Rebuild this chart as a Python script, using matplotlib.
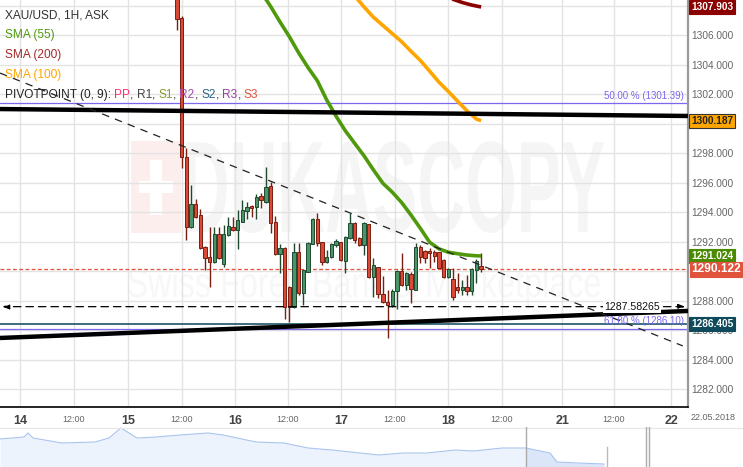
import numpy as np
import matplotlib
matplotlib.use('Agg')
import matplotlib.pyplot as plt
import matplotlib.transforms as mtransforms
from matplotlib.textpath import TextPath
from matplotlib.patches import PathPatch, Rectangle
from matplotlib.font_manager import FontProperties

plt.rcParams['font.family'] = ['Liberation Sans', 'DejaVu Sans']

# ---------------- data ----------------
opens = [1311.0, 1307.15, 1297.73, 1292.98, 1294.54, 1293.80, 1291.63, 1290.95, 1290.61, 1292.51,
         1290.47, 1292.44, 1292.98, 1292.78, 1293.32, 1294.07, 1294.41, 1294.34, 1295.08, 1294.68,
         1295.76, 1293.32, 1291.15, 1291.56, 1288.92, 1287.56, 1291.29, 1288.51, 1289.93, 1291.83,
         1293.53, 1291.96, 1290.61, 1290.95, 1291.76, 1291.96, 1290.68, 1292.24, 1293.25, 1292.24,
         1291.76, 1293.18, 1289.59, 1290.27, 1288.44, 1287.90, 1287.69, 1288.64, 1290.00, 1289.05,
         1289.80, 1288.71, 1291.63, 1291.36, 1291.36, 1291.29, 1291.29, 1290.74, 1289.59, 1289.46,
         1288.92, 1288.71, 1288.92, 1288.64, 1290.07, 1290.34]
highs = [1311.5, 1307.30, 1298.34, 1295.83, 1294.88, 1294.20, 1291.70, 1292.98, 1292.98, 1292.98,
         1293.12, 1293.66, 1293.66, 1294.14, 1294.81, 1294.68, 1294.50, 1295.22, 1295.30, 1297.05,
         1296.03, 1293.73, 1291.80, 1291.60, 1289.00, 1291.90, 1291.90, 1290.10, 1291.95, 1293.60,
         1293.93, 1292.00, 1291.42, 1291.90, 1292.17, 1292.00, 1292.35, 1293.93, 1293.30, 1292.30,
         1293.30, 1293.20, 1290.88, 1290.30, 1289.66, 1288.71, 1288.78, 1290.05, 1291.22, 1289.90,
         1289.90, 1291.90, 1291.76, 1291.40, 1291.56, 1291.42, 1291.30, 1290.80, 1290.20, 1290.20,
         1289.86, 1289.39, 1289.73, 1290.20, 1290.80, 1291.22]
lows = [1306.34, 1296.98, 1292.10, 1292.90, 1293.60, 1291.50, 1290.07, 1288.92, 1290.55, 1290.80,
        1290.27, 1292.40, 1292.70, 1291.49, 1293.30, 1293.53, 1293.66, 1293.53, 1294.27, 1294.60,
        1292.58, 1291.10, 1289.86, 1286.75, 1286.54, 1287.50, 1288.40, 1287.68, 1289.90, 1291.80,
        1291.70, 1290.41, 1290.55, 1290.88, 1291.63, 1290.70, 1289.86, 1292.20, 1291.90, 1291.70,
        1291.08, 1289.50, 1288.24, 1288.17, 1287.85, 1285.46, 1287.56, 1287.42, 1289.00, 1288.71,
        1287.83, 1288.70, 1290.54, 1290.54, 1290.20, 1290.61, 1290.20, 1289.50, 1289.50, 1288.03,
        1288.51, 1288.37, 1288.37, 1288.37, 1289.20, 1289.93]
closes = [1307.08, 1297.73, 1292.98, 1294.54, 1293.66, 1291.56, 1290.88, 1290.61, 1292.51, 1290.88,
          1292.51, 1293.05, 1292.78, 1293.46, 1294.14, 1294.34, 1294.27, 1295.02, 1294.81, 1295.70,
          1293.25, 1291.15, 1291.56, 1287.56, 1287.56, 1291.29, 1288.51, 1290.07, 1291.90, 1293.53,
          1291.90, 1290.61, 1290.95, 1291.83, 1292.03, 1290.74, 1292.31, 1293.25, 1292.10, 1291.76,
          1293.25, 1289.59, 1290.41, 1288.44, 1287.90, 1287.69, 1288.64, 1290.00, 1289.05, 1289.86,
          1288.78, 1291.63, 1290.95, 1290.88, 1291.22, 1291.02, 1290.20, 1289.59, 1290.14, 1288.24,
          1288.71, 1288.92, 1288.64, 1290.14, 1290.68, 1290.12]

sma55_idx = [18, 20, 22, 24, 26, 28, 30, 32, 34, 36, 38, 40, 42, 44, 46, 48, 50, 52, 54, 56, 58, 60, 62, 64, 65]
sma55_val = [1308.9, 1307.95, 1306.9, 1305.9, 1304.8, 1303.8, 1302.9, 1301.6, 1300.5, 1299.5, 1298.65,
             1297.8, 1296.85, 1295.95, 1295.35, 1294.65, 1293.8, 1292.9, 1291.95, 1291.5, 1291.27,
             1291.17, 1291.08, 1291.03, 1291.02]
sma100_idx = [38, 40, 42, 44, 46, 48, 50, 52, 54, 56, 58, 60, 62, 64, 65]
sma100_val = [1308.65, 1307.9, 1307.2, 1306.65, 1306.1, 1305.55, 1304.9, 1304.28, 1303.55, 1302.8,
              1302.17, 1301.5, 1300.85, 1300.3, 1300.19]
sma200_idx = [57, 59, 61, 63, 65]
sma200_val = [1308.65, 1308.42, 1308.2, 1308.03, 1307.9]

tick_pos = [-33.5, -22.0, -10.5, 1.1, 12.4, 23.7, 35.0, 46.6, 57.9, 69.4, 82.3, 93.4, 105.6]
tick_lab = ['14', '12:00', '15', '12:00', '16', '12:00', '17', '12:00', '18', '12:00', '21', '12:00', '22']

x_range = (-37.8, 109.2)
resist_y = (1300.98, 1300.51)
support_y = (1285.46, 1287.29)
trend_x = (-37.8, 108.1)
trend_y = (1303.42, 1284.92)
hline_level = 1287.58265
fib50 = 1301.39
fib618 = 1286.10
teal_level = 1286.405
last_price = 1290.122
sma55_last, sma100_last, sma200_last = 1291.024, 1300.187, 1307.903

nav_t = [0, 24, 28, 33, 62, 95, 109, 121, 137, 156, 180, 208, 223, 256, 284, 308, 332, 360, 379, 403,
         427, 455, 474, 502, 526, 550, 557, 578, 604]
nav_v = [28, 30, 34, 29, 24, 25, 29, 39, 29, 30, 32, 34, 32, 25, 24, 19, 17, 14, 12, 14,
         14, 17, 16, 19, 19, 14, 5, 4, 3]

# ---------------- figure ----------------
W, H = 743, 467
fig = plt.figure(figsize=(W / 100, H / 100), dpi=100)
fig.patch.set_facecolor('white')

# background / watermark axes in pixel coords
bg = fig.add_axes([0, 0, 1, 1], zorder=0)
bg.set_xlim(0, W)
bg.set_ylim(H, 0)
bg.axis('off')


def fitted_text(ax, s, x0, y0, x1, y1, color, weight='bold'):
    tp = TextPath((0, 0), s, size=100, prop=FontProperties(family='Liberation Sans', weight=weight))
    bb = tp.get_extents()
    sx = (x1 - x0) / bb.width
    sy = (y1 - y0) / bb.height
    tr = mtransforms.Affine2D().translate(-bb.x0, -bb.y0).scale(sx, -sy).translate(x0, y1) + ax.transData
    ax.add_patch(PathPatch(tp, transform=tr, fc=color, ec='none'))


bg.add_patch(Rectangle((131, 141), 50, 92, fc='#fdeeee', ec='none'))
bg.add_patch(Rectangle((150, 160), 12, 55, fc='white', ec='none'))
bg.add_patch(Rectangle((139, 181), 34, 12, fc='white', ec='none'))
fitted_text(bg, 'DUKASCOPY', 186, 141, 604, 233, '#f5f5f5')
fitted_text(bg, 'Swiss Forex Bank & Marketplace', 128, 266, 600, 306, '#f7f7f7', weight='normal')

# main axes
ax = fig.add_axes([0, 1 - 407 / H, 688 / W, 407 / H], zorder=1)
ax.patch.set_alpha(0)
ymin = 1308.373 - 407 / 14.75
ax.set_ylim(ymin, 1308.373)
ax.set_xlim(*x_range)

yt = np.arange(1282, 1309, 2)
ax.set_yticks(yt)
ax.yaxis.tick_right()
ax.set_yticklabels(['%.3f' % v if v != 1308 else '' for v in yt])
ax.tick_params(axis='y', length=0, pad=2, labelsize=7.3, labelcolor='#666666')
ax.set_xticks(tick_pos)
ax.set_xticklabels(tick_lab)
ax.tick_params(axis='x', length=0, pad=6, labelcolor='#555555')
for lab in ax.get_xticklabels():
    if ':' in lab.get_text():
        lab.set_fontsize(6.5)
        lab.set_color('#666666')
    else:
        lab.set_fontsize(9)
        lab.set_fontweight('bold')
        lab.set_color('#444444')
ax.grid(True, color='#e3e3e3', linewidth=1)
ax.set_axisbelow(True)
for s in ['top', 'left']:
    ax.spines[s].set_visible(False)
ax.spines['right'].set_color('#9a9a9a')
ax.spines['right'].set_linewidth(1.6)
ax.spines['bottom'].set_color('black')
ax.spines['bottom'].set_linewidth(1.2)

# candles
x = np.arange(len(opens))
o = np.array(opens); c = np.array(closes); hh = np.array(highs); ll = np.array(lows)
up = c >= o
face = np.where(up, '#4a9467', '#d84a36')
edge = np.where(up, '#1f4a30', '#7a1e12')
ax.vlines(x, ll, hh, colors=edge, linewidth=1, zorder=3)
ax.bar(x, np.maximum(np.abs(c - o), 0.06), bottom=np.minimum(o, c), width=0.72,
       color=face, edgecolor=edge, linewidth=0.7, zorder=4)

# SMAs
ax.plot(sma55_idx, sma55_val, color='#4f9a0c', lw=2.6, zorder=5, solid_capstyle='butt')
ax.plot(sma100_idx, sma100_val, color='#ffa500', lw=2.6, zorder=5, solid_capstyle='butt')
ax.plot(sma200_idx, sma200_val, color='#8b0000', lw=2.6, zorder=5, solid_capstyle='butt')

# horizontal levels
ax.axhline(fib50, color='#7b68ee', lw=0.9, zorder=2)
ax.axhline(fib618, color='#7b68ee', lw=0.9, zorder=2)
ax.axhline(teal_level, color='#1b5566', lw=1.2, zorder=2)
ax.axhline(last_price, color='#e8503a', lw=0.9, ls=(0, (3, 2)), zorder=2)

# trend lines
ax.plot(x_range, resist_y, color='black', lw=3.2, zorder=6, solid_capstyle='butt')
ax.plot(x_range, support_y, color='black', lw=3.2, zorder=6, solid_capstyle='butt')
ax.plot(trend_x, trend_y, color='#222222', lw=0.9, ls=(0, (6, 5)), zorder=6)
ax.annotate('', xy=(x_range[0] + 0.5, hline_level), xytext=(x_range[1] - 0.6, hline_level),
            arrowprops=dict(arrowstyle='<|-|>,head_width=0.15,head_length=0.4', color='black', lw=0.9,
                            ls=(0, (6, 4)), shrinkA=0, shrinkB=0), zorder=6)
ax.text(97.2, hline_level, '1287.58265', ha='center', va='center', fontsize=7.6, color='#111111',
        zorder=7, bbox=dict(boxstyle='square,pad=0.1', fc='white', ec='none'))

ax.annotate('50.00 % (1301.39)', xy=(108.3, fib50), xytext=(0, 1.5), textcoords='offset points',
            ha='right', va='bottom', fontsize=7, color='#7b68ee', zorder=7)
ax.annotate('61.80 % (1286.10)', xy=(108.3, fib618), xytext=(0, 1.5), textcoords='offset points',
            ha='right', va='bottom', fontsize=7, color='#7b68ee', zorder=7)

# right value boxes
blend = mtransforms.blended_transform_factory(ax.transAxes, ax.transData)
xb = 1 + 3 / 688


def vbox(val, fc, tc, ec, size=7.3, pad=0.2):
    ax.text(xb, val, '%.3f' % val, transform=blend, ha='left', va='center', fontsize=size,
            fontweight='bold', color=tc, clip_on=False, zorder=10,
            bbox=dict(boxstyle='square,pad=%.2f' % pad, fc=fc, ec=ec, lw=0.8))


vbox(sma200_last, '#8b0000', 'white', '#8b0000')
vbox(sma100_last, '#ffa500', '#222222', '#333333')
vbox(sma55_last, '#4a8a00', 'white', '#4a8a00')
vbox(last_price, '#e0533d', 'white', '#e0533d', size=8.6, pad=0.12)
vbox(teal_level, '#0e4a5c', 'white', '#0e4a5c')

# legend texts (top-left)
fs = 8.6
ax.text(5 / 688, 1 - 15 / 407, 'XAU/USD, 1H, ASK', transform=ax.transAxes, fontsize=fs, color='#333333',
        va='center', zorder=8)
ax.text(5 / 688, 1 - 35 / 407, 'SMA (55)', transform=ax.transAxes, fontsize=fs, color='#4f9a0c',
        va='center', zorder=8)
ax.text(5 / 688, 1 - 55 / 407, 'SMA (200)', transform=ax.transAxes, fontsize=fs, color='#a52a2a',
        va='center', zorder=8)
ax.text(5 / 688, 1 - 75 / 407, 'SMA (100)', transform=ax.transAxes, fontsize=fs, color='#ffa500',
        va='center', zorder=8)
t = ax.text(5 / 688, 1 - 95 / 407, 'PIVOTPOINT (0, 9): ', transform=ax.transAxes, fontsize=fs,
            color='#222222', va='center', zorder=8)
pieces = [('PP', '#ff2d78'), (', ', '#333333'), ('R1', '#444444'), (', ', '#333333'),
          ('S1', '#8a9a2a'), (', ', '#333333'), ('R2', '#a44aa8'), (', ', '#333333'),
          ('S2', '#2a6688'), (', ', '#333333'), ('R3', '#9a3fa0'), (', ', '#333333'),
          ('S3', '#e2513f')]
for s, col in pieces:
    t = ax.annotate(s, xy=(1, 0), xycoords=t, va='bottom', ha='left', fontsize=fs, color=col, zorder=8)

# date label
fig.text(713 / W, 1 - 418 / H, '22.05.2018', ha='center', va='center', fontsize=6.5, color='#666666')

# navigator
nav = fig.add_axes([0, 0, 1, 40 / H], zorder=1)
nav.set_xlim(0, W)
nav.set_ylim(0, 40)
nav.axis('off')
nt = np.array(nav_t); nvv = np.array(nav_v)
nav.fill_between(nt, 0, nvv, where=nt <= 526, color='#edf3fc', lw=0, interpolate=True)
nav.fill_between(nt, 0, nvv, where=nt >= 526, color='#dbe7f8', lw=0, interpolate=True)
nav.plot(nt, nvv, color='#a9c4ee', lw=0.8)
nav.axhline(39.5, color='#e6e6e6', lw=0.8)
nav.axvline(526, color='#aaaaaa', lw=1)
nav.plot([607, 607], [0, 20], color='#bbbbbb', lw=1)
nav.axvline(646, color='#aaaaaa', lw=1)
nav.axvline(649, color='#aaaaaa', lw=1)

fig.savefig('out.png', dpi=100, facecolor='white')
